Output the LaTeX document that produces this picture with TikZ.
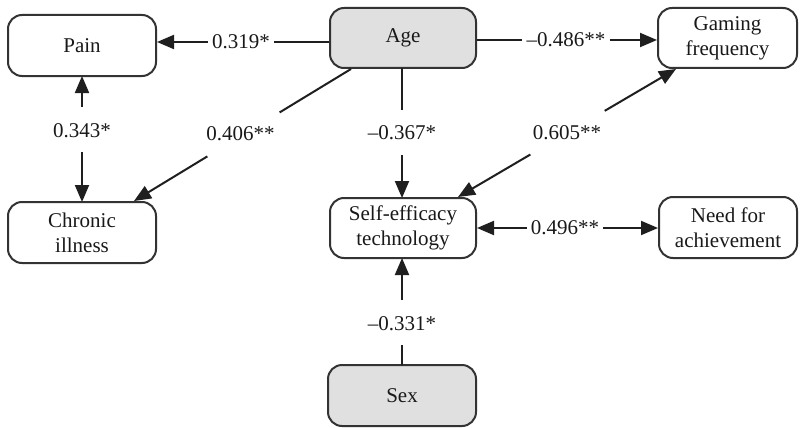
\documentclass[tikz,border=0pt]{standalone}
\usepackage{fontspec}
\setmainfont{Liberation Serif}
\usetikzlibrary{arrows.meta,calc}
\begin{document}
\begin{tikzpicture}[x=1pt,y=-1pt,
  box/.style={draw=black!80, line width=2pt, rounded corners=14pt, fill=white, align=center,
    inner sep=0pt, font=\fontsize{21}{25}\selectfont, text=black!90},
  greybox/.style={box, fill=black!12},
  lbl/.style={font=\fontsize{21}{25}\selectfont, text=black!90, inner xsep=4pt, inner ysep=0pt},
  conn/.style={line width=2pt, draw=black!88},
  arr/.style={conn, -{Triangle[length=17pt,width=14pt]}},
]
\useasboundingbox (0,0) rectangle (800,428);
% nodes
\node[box, minimum width=148pt, minimum height=61pt] (pain) at (82,45.5) {Pain};
\node[greybox, minimum width=146pt, minimum height=60pt] (age) at (403,38) {Age};
\node[box, minimum width=139pt, minimum height=60pt] (gaming) at (727.5,38) {Gaming\\frequency};
\node[box, minimum width=148pt, minimum height=61pt] (chronic) at (82,232.5) {Chronic\\illness};
\node[box, minimum width=146pt, minimum height=60pt] (self) at (403,228) {Self-efficacy\\technology};
\node[box, minimum width=138pt, minimum height=61pt] (need) at (728,227.5) {Need for\\achievement};
\node[greybox, minimum width=148pt, minimum height=61pt] (sex) at (402,395.5) {Sex};

% Age -> Pain
\node[lbl] (l319) at (241,42) {0.319*};
\draw[conn] (age.west |- l319) -- (l319);
\draw[arr] (l319) -- (pain.east |- l319);

% Age -> Gaming
\node[lbl] (l486) at (566,40) {--0.486**};
\draw[conn] (age.east |- l486) -- (l486);
\draw[arr] (l486) -- (gaming.west |- l486);

% Self <-> Need
\node[lbl] (l496) at (565,228) {0.496**};
\draw[arr] (l496) -- (self.east |- l496);
\draw[arr] (l496) -- (need.west |- l496);

% Pain <-> Chronic
\coordinate (ps) at (82,76);
\coordinate (cn) at (82,202);
\draw[arr] ($(ps)!0.246!(cn)$) -- (ps);
\draw[arr] ($(ps)!0.603!(cn)$) -- (cn);
\node[lbl] (l343) at ($(ps)!0.43!(cn)$) {0.343*};

% Age -> Self
\coordinate (as) at (402,68);
\coordinate (sn) at (402,198);
\draw[conn] (as) -- ($(as)!0.323!(sn)$);
\draw[arr] ($(as)!0.669!(sn)$) -- (sn);
\node[lbl] (l367) at ($(as)!0.5!(sn)$) {--0.367*};

% Sex -> Self
\coordinate (xn) at (402,365);
\coordinate (ss) at (402,258);
\draw[conn] (xn) -- ($(xn)!0.187!(ss)$);
\draw[arr] ($(xn)!0.607!(ss)$) -- (ss);
\node[lbl] (l331) at ($(xn)!0.39!(ss)$) {--0.331*};

% Age -> Chronic
\coordinate (ac1) at ([xshift=22pt]age.south west);
\coordinate (ac2) at ([xshift=-23pt]chronic.north east);
\draw[conn] (ac1) -- ($(ac1)!0.329!(ac2)$);
\draw[arr] ($(ac1)!0.662!(ac2)$) -- (ac2);
\node[lbl] (l406) at ($(ac1)!0.5!(ac2)+(-2,-1)$) {0.406**};

% Gaming <-> Self
\coordinate (gs1) at ([xshift=19pt]gaming.south west);
\coordinate (gs2) at ([xshift=-19pt]self.north east);
\draw[arr] ($(gs1)!0.327!(gs2)$) -- (gs1);
\draw[arr] ($(gs1)!0.668!(gs2)$) -- (gs2);
\node[lbl] (l605) at ($(gs1)!0.5!(gs2)$) {0.605**};
\end{tikzpicture}
\end{document}
